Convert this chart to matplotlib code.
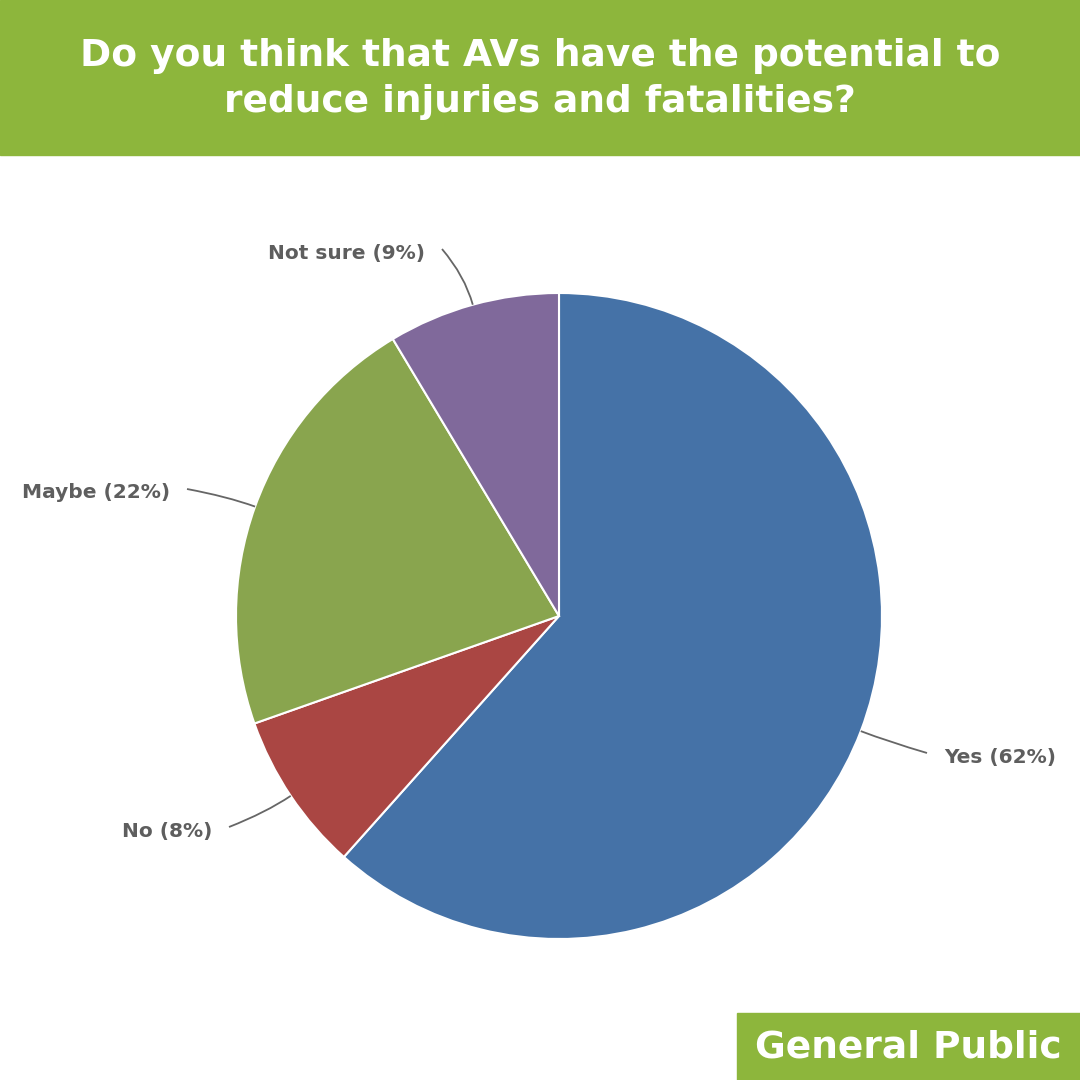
import numpy as np
import matplotlib
matplotlib.use("Agg")
import matplotlib.pyplot as plt
from matplotlib.path import Path
from matplotlib.patches import PathPatch, Rectangle

# ---- data ----
categories = ["Yes", "No", "Maybe", "Not sure"]
shares = [61.6, 8.0, 21.8, 8.6]          # slice sizes
label_pcts = [62, 8, 22, 9]              # percentages printed on the labels
colors = ["#4572A7", "#AA4643", "#89A54E", "#80699B"]
title = "Do you think that AVs have the potential to\nreduce injuries and fatalities?"
badge = "General Public"

# ---- layout (pixels, y measured from top) ----
W = H = 1080
cx, cy, R = 559, 616, 323
label_anchor = {"Yes": (932, 757, "left"), "No": (224, 831, "right"),
                "Maybe": (182, 493, "right"), "Not sure": (437, 253, "right")}
green = "#8DB63C"
gray = "#5E5E5E"

fig = plt.figure(figsize=(10.8, 10.8), dpi=100)
ax = fig.add_axes([0, 0, 1, 1])
ax.set_xlim(0, W)
ax.set_ylim(0, H)
ax.set_aspect("equal")
ax.axis("off")

def Y(py):
    return H - py

# header band
ax.add_patch(Rectangle((0, Y(155)), W, 155, color=green, zorder=1))
ax.text(W / 2, Y(79), title, ha="center", va="center", color="white",
        fontsize=27, fontweight="bold", family="DejaVu Sans", linespacing=1.35, zorder=2)

# badge
ax.add_patch(Rectangle((737, 0), W - 737, H - 1013, color=green, zorder=1))
ax.text(755, Y(1047), badge, ha="left", va="center", color="white",
        fontsize=27, fontweight="bold", family="DejaVu Sans", zorder=2)

# pie
ax.pie(shares, colors=colors, center=(cx, Y(cy)), radius=R, startangle=90,
       counterclock=False, wedgeprops=dict(edgecolor="white", linewidth=1.5),
       frame=True)
ax.set_xlim(0, W)
ax.set_ylim(0, H)
ax.axis("off")

# labels and connectors
total = sum(shares)
cum = 0.0
for cat, s, p in zip(categories, shares, label_pcts):
    mid = (cum + s / 2) / total * 2 * np.pi
    cum += s
    ex, ey = cx + R * np.sin(mid), cy - R * np.cos(mid)
    kx, ky = cx + (R + 30) * np.sin(mid), cy - (R + 30) * np.cos(mid)
    lx, ly, ha = label_anchor[cat]
    sx = lx - 5 if ha == "left" else lx + 5
    path = Path([(ex, Y(ey)), (kx, Y(ky)), (sx, Y(ly - 4))],
                [Path.MOVETO, Path.CURVE3, Path.CURVE3])
    ax.add_patch(PathPatch(path, fill=False, edgecolor="#666666", lw=1.3, zorder=3))
    tx = lx + 12 if ha == "left" else lx - 12
    ax.text(tx, Y(ly), f"{cat} ({p}%)", ha=ha, va="center", color=gray,
            fontsize=14.5, fontweight="bold", family="DejaVu Sans", zorder=4)

fig.savefig("out.png", dpi=100, facecolor="white")
